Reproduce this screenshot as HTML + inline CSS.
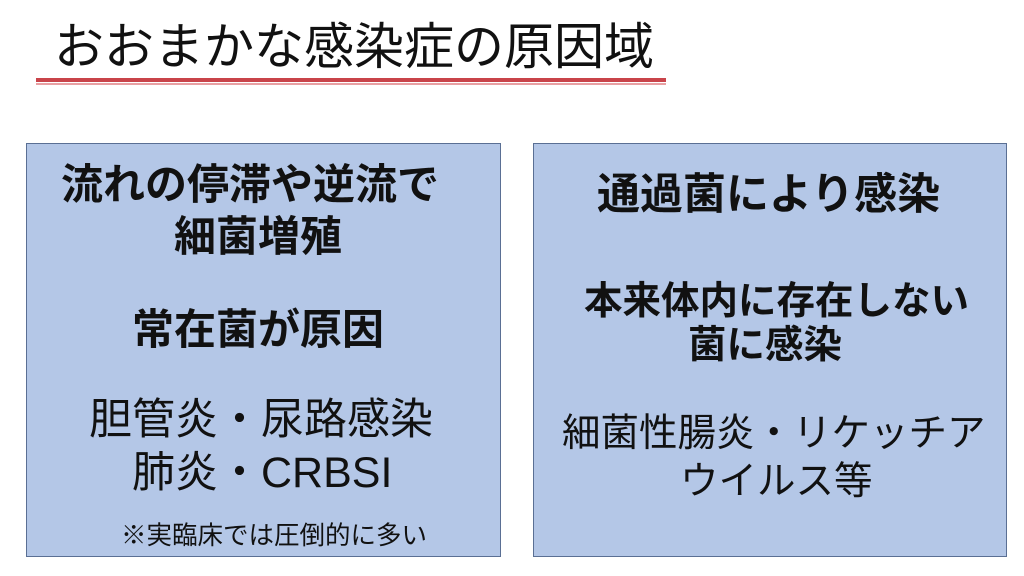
<!DOCTYPE html>
<html><head><meta charset="utf-8"><style>
body{margin:0;width:1024px;height:576px;background:#fff;position:relative;overflow:hidden;font-family:"Liberation Sans","Noto Sans CJK JP",sans-serif;color:#111}
.t{position:absolute;white-space:nowrap;line-height:1}
.b{font-weight:bold}
.box{position:absolute;background:#b4c7e7;border:1.5px solid #5a6f94;box-sizing:border-box}
</style></head><body>
<div class="t" style="left:54px;top:22px;font-size:50px;">おおまかな感染症の原因域</div>
<div style="position:absolute;left:36px;top:78px;width:630px;height:4px;background:#c9444a"></div>
<div style="position:absolute;left:36px;top:83px;width:630px;height:2px;background:#e8a0a3"></div>

<div class="box" style="left:26px;top:143px;width:475px;height:414px"></div>
<div class="box" style="left:533px;top:143px;width:474px;height:414px"></div>

<div class="t b" style="left:61px;top:164px;font-size:42px;">流れの停滞や逆流で</div>
<div class="t b" style="left:174px;top:216px;font-size:42px;">細菌増殖</div>
<div class="t b" style="left:132px;top:309px;font-size:42px;">常在菌が原因</div>
<div class="t" style="left:89px;top:399px;font-size:43px;">胆管炎・尿路感染</div>
<div class="t" style="left:132px;top:452px;font-size:43px;">肺炎・CRBSI</div>
<div class="t" style="left:121px;top:524px;font-size:25.5px;">※実臨床では圧倒的に多い</div>

<div class="t b" style="left:597px;top:174px;font-size:43px;">通過菌により感染</div>
<div class="t b" style="left:584px;top:283px;font-size:38.5px;">本来体内に存在しない</div>
<div class="t b" style="left:688px;top:327px;font-size:38.5px;">菌に感染</div>
<div class="t" style="left:562px;top:415px;font-size:38.5px;">細菌性腸炎・リケッチア</div>
<div class="t" style="left:680px;top:463px;font-size:38.5px;">ウイルス等</div>
</body></html>
